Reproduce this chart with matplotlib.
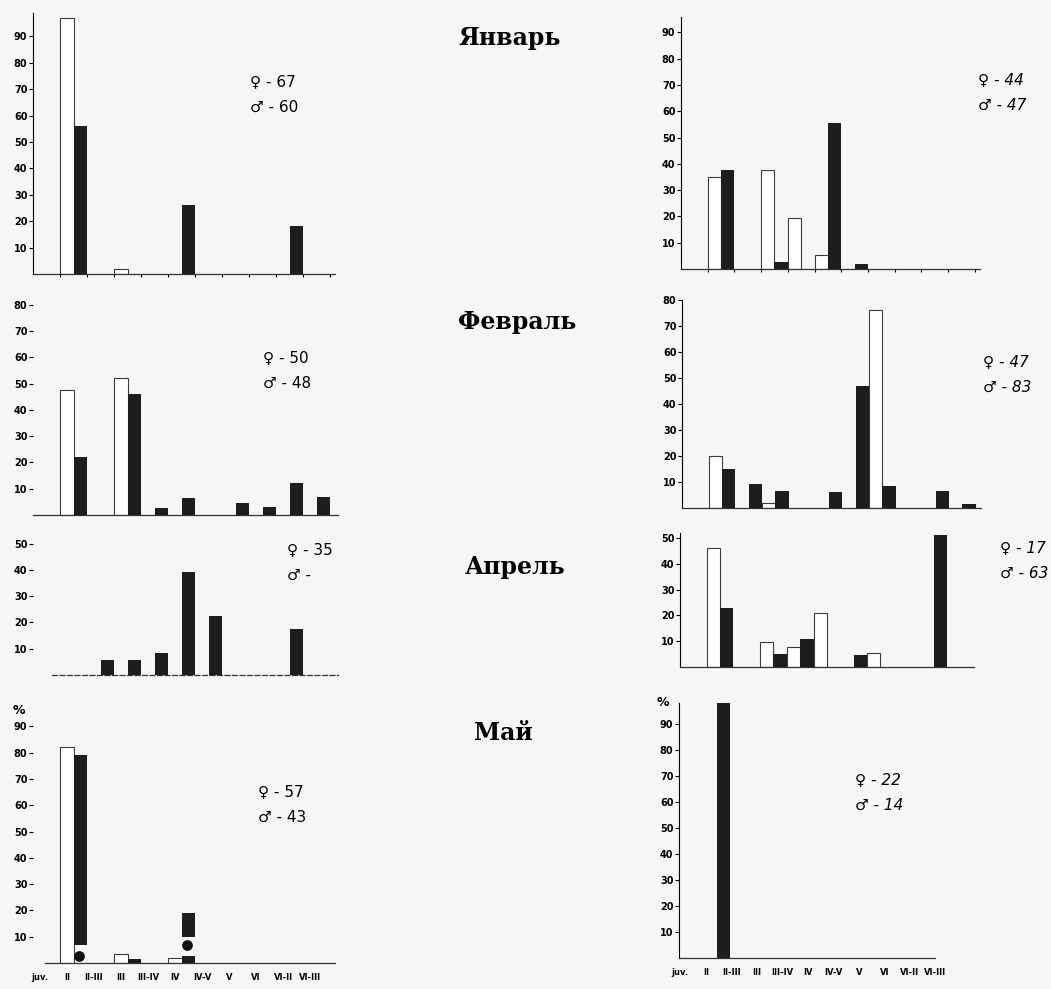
import numpy as np
import matplotlib.pyplot as plt

W, H = 1051, 989
BG = '#f6f6f4'

stages = ['juv.', 'II', 'II-III', 'III', 'III-IV', 'IV', 'IV-V', 'V', 'VI', 'VI-II', 'VI-III']

# percent of fish per maturity stage (white = female, black = male)
jan_l_fem = [0, 97, 0, 2, 0, 0, 0, 0, 0, 0, 0]
jan_l_mal = [0, 56, 0, 0, 0, 26, 0, 0, 0, 18, 0]
jan_r_fem = [0, 35, 0, 37.6, 19.4, 5.3, 0, 0, 0, 0, 0]
jan_r_mal = [0, 37.6, 0, 2.7, 0, 55.5, 2, 0, 0, 0, 0]

feb_l_fem = [0, 47.5, 0, 52, 0, 0, 0, 0, 0, 0, 0]
feb_l_mal = [0, 22, 0, 46, 2.7, 6.5, 0, 4.6, 3, 12, 7]
feb_r_fem = [0, 20, 0, 2, 0, 0, 0, 76, 0, 0, 0]
feb_r_mal = [0, 15, 9.2, 6.5, 0, 6.2, 47, 8.5, 0, 6.5, 1.5]

apr_l_fem = [0, 0, 0, 0, 0, 0, 0, 0, 0, 0, 0]
apr_l_mal = [0, 0, 5.7, 5.7, 8.4, 39, 22.4, 0, 0, 17.5, 0]
apr_r_fem = [0, 46, 0, 9.7, 7.8, 21, 0, 5.4, 0, 0, 0]
apr_r_mal = [0, 23, 0, 5, 10.8, 0, 4.7, 0, 0, 51, 0]

may_l_fem = [0, 82, 0, 3.5, 0, 2, 0, 0, 0, 0, 0]
may_l_mal = [0, 79, 0, 1.5, 0, 19, 0, 0, 0, 0, 0]
may_l_mal_base = [0, 7, 0, 0, 0, 10, 0, 0, 0, 0, 0]
may_l_stub = [0, 0, 0, 0, 0, 2.5, 0, 0, 0, 0, 0]
may_l_dot_stage = [1, 5]
may_l_dot_val = [2.5, 7]
may_r_fem = [0, 0, 0, 0, 0, 0, 0, 0, 0, 0, 0]
may_r_mal = [0, 100, 0, 0, 0, 0, 0, 0, 0, 0, 0]

counts = {
    'jan_l': ('67', '60'), 'jan_r': ('44', '47'),
    'feb_l': ('50', '48'), 'feb_r': ('47', '83'),
    'apr_l': ('35', ''), 'apr_r': ('17', '63'),
    'may_l': ('57', '43'), 'may_r': ('22', '14'),
}
months = ['Январь', 'Февраль', 'Апрель', 'Май']

fig = plt.figure(figsize=(W / 100, H / 100), dpi=100, facecolor=BG)


def make_ax(x0, ppx, xmax, zero, ppu, ymax, spine=True, yt=90):
    ax = fig.add_axes([x0 / W, (H - zero) / H, ppx * xmax / W, ppu * ymax / H])
    ax.set_xlim(0, xmax)
    ax.set_ylim(0, ymax)
    ax.patch.set_alpha(0)
    for s in ['top', 'right']:
        ax.spines[s].set_visible(False)
    ax.spines['left'].set_visible(spine)
    ax.spines['left'].set_linewidth(0.8)
    ax.spines['bottom'].set_linewidth(0.9)
    ax.spines['bottom'].set_color('#333333')
    ax.set_yticks(range(10, yt + 1, 10))
    ax.tick_params(axis='y', direction='out', length=3, width=0.8, pad=1,
                   labelsize=7)
    for t in ax.get_yticklabels():
        t.set_fontweight('bold')
    ax.set_xticks([])
    return ax


def draw_pairs(ax, fem, mal, base=None):
    x = np.arange(len(stages))
    fem = np.array(fem, dtype=float)
    mal = np.array(mal, dtype=float)
    base = np.zeros(len(stages)) if base is None else np.array(base, dtype=float)
    f = fem > 0
    ax.bar(x[f], fem[f], width=0.5, align='edge', facecolor='white',
           edgecolor='#3c3c3c', linewidth=0.8, zorder=2)
    m = mal > 0
    ax.bar(x[m] + 0.5, (mal - base)[m], bottom=base[m], width=0.5, align='edge',
           color='#1d1d1d', zorder=3)


def sex_label(x, y, key, italic=False, size=11):
    fc, mc = counts[key]
    style = 'italic' if italic else 'normal'
    fig.text(x / W, 1 - y / H, '\u2640 - ' + fc, fontsize=size, style=style,
             va='center', ha='left')
    fig.text(x / W, 1 - (y + 25) / H, '\u2642 - ' + mc, fontsize=size, style=style,
             va='center', ha='left')


# January
ax = make_ax(33, 27, 11.2, 274, 2.64, 99)
draw_pairs(ax, jan_l_fem, jan_l_mal)
ax.set_xticks(range(1, 12))
ax.set_xticklabels([])
ax.tick_params(axis='x', length=2.5, width=0.8)
sex_label(250, 82, 'jan_l')

ax = make_ax(681, 26.7, 11.2, 269, 2.63, 96)
draw_pairs(ax, jan_r_fem, jan_r_mal)
ax.set_xticks(range(1, 12))
ax.set_xticklabels([])
ax.tick_params(axis='x', length=2.5, width=0.8)
sex_label(978, 80, 'jan_r', italic=True)

# February
ax = make_ax(33, 27, 11.3, 515, 2.63, 84, spine=False, yt=80)
draw_pairs(ax, feb_l_fem, feb_l_mal)
sex_label(263, 358, 'feb_l')

ax = make_ax(682, 26.7, 11.2, 508, 2.6, 80, yt=80)
draw_pairs(ax, feb_r_fem, feb_r_mal)
sex_label(983, 362, 'feb_r', italic=True)

# April
ax = make_ax(33, 27, 11.3, 675, 2.63, 53, spine=False, yt=50)
draw_pairs(ax, apr_l_fem, apr_l_mal)
ax.spines['bottom'].set_bounds(0.7, 11.3)
ax.spines['bottom'].set_linestyle((0, (4, 2)))
sex_label(287, 550, 'apr_l')

ax = make_ax(680, 26.7, 11.0, 667, 2.58, 52, yt=50)
draw_pairs(ax, apr_r_fem, apr_r_mal)
sex_label(1000, 548, 'apr_r', italic=True)

# May
ax = make_ax(33, 27, 11.2, 963, 2.63, 95, spine=False)
draw_pairs(ax, may_l_fem, may_l_mal, may_l_mal_base)
ax.bar(np.arange(len(stages)) + 0.5, may_l_stub, width=0.5, align='edge',
       color='#1d1d1d', zorder=3)
ax.scatter(np.array(may_l_dot_stage) + 0.72, may_l_dot_val, s=45, color='#111111',
           zorder=4, clip_on=False)
ax.spines['bottom'].set_bounds(0.45, 11.2)
ax.set_xticks(np.arange(len(stages)) + 0.26)
ax.set_xticklabels(stages, fontsize=6, fontweight='bold')
ax.tick_params(axis='x', length=0, pad=7)
fig.text(13 / W, 1 - 710 / H, '%', fontsize=9, fontweight='bold', va='center')
sex_label(258, 792, 'may_l')

ax = make_ax(679, 26.7, 9.6, 958, 2.6, 98)
draw_pairs(ax, may_r_fem, may_r_mal)
ax.set_xticks(np.arange(len(stages)) + 0.05)
ax.set_xticklabels(stages, fontsize=6, fontweight='bold')
ax.tick_params(axis='x', length=0, pad=7)
fig.text(657 / W, 1 - 703 / H, '%', fontsize=9, fontweight='bold', va='center')
sex_label(855, 780, 'may_r', italic=True)

# month titles
for name, (cx, cy) in zip(months, [(510, 38), (517, 322), (515, 567), (503, 733)]):
    fig.text(cx / W, 1 - cy / H, name, fontsize=17, fontweight='bold',
             family='DejaVu Serif', ha='center', va='center')

fig.savefig('out.png', dpi=100, facecolor=BG)
